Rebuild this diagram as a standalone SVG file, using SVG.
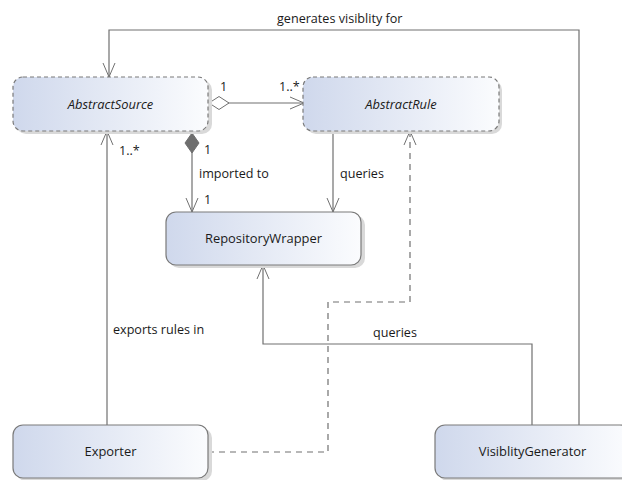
<svg xmlns="http://www.w3.org/2000/svg" width="622" height="480" viewBox="0 0 622 480">
  <defs>
    <linearGradient id="fill" x1="0" y1="0" x2="1" y2="0">
      <stop offset="0" stop-color="#cfd8ec"/>
      <stop offset="1" stop-color="#fbfcfe"/>
    </linearGradient>
    <marker id="open" markerWidth="16" markerHeight="14" refX="14" refY="7" orient="auto" markerUnits="userSpaceOnUse">
      <path d="M0,1 L14,7 L0,13" fill="none" stroke="#707070" stroke-width="1"/>
    </marker>
    <marker id="hollowDiamond" markerWidth="24" markerHeight="16" refX="0" refY="8" orient="auto" markerUnits="userSpaceOnUse">
      <path d="M1,8 L11,1.5 L21,8 L11,14.5 Z" fill="#ffffff" stroke="#707070" stroke-width="1"/>
    </marker>
    <marker id="filledDiamond" markerWidth="24" markerHeight="16" refX="0" refY="8" orient="auto" markerUnits="userSpaceOnUse">
      <path d="M1,8 L11,1 L21,8 L11,15 Z" fill="#6e6e6e" stroke="#6e6e6e" stroke-width="1"/>
    </marker>
  </defs>
  <style>
    .shadow { fill: #d9d9d9; }
    .box { fill: url(#fill); stroke: #7a7a7a; stroke-width: 1.2; }
    .abstract { stroke-dasharray: 4 3; }
    .name { font-family: "Open Sans", "DejaVu Sans", sans-serif; font-size: 12.9px; fill: #1a1a1a; text-anchor: middle; }
    .italic { font-style: italic; }
    .line { fill: none; stroke: #707070; stroke-width: 1.2; }
    .dash { stroke-dasharray: 6 5; }
    .label { font-family: "Open Sans", "DejaVu Sans", sans-serif; font-size: 12.6px; fill: #1a1a1a; }
  </style>
  <rect width="622" height="480" fill="#ffffff"/>

  <g id="connectors">
    <!-- VisiblityGenerator generates visibility for AbstractSource -->
    <polyline class="line" points="579,425 579,30 109,30 109,77" marker-end="url(#open)"/>
    <text class="label" x="277" y="23">generates visiblity for</text>
    <!-- aggregation AbstractSource to AbstractRule -->
    <line class="line" x1="208" y1="103" x2="304" y2="103" marker-start="url(#hollowDiamond)" marker-end="url(#open)"/>
    <text class="label" x="220" y="91">1</text>
    <text class="label" x="279" y="91">1..*</text>
    <!-- composition AbstractSource to RepositoryWrapper -->
    <line class="line" x1="192" y1="132" x2="192" y2="212" marker-start="url(#filledDiamond)" marker-end="url(#open)"/>
    <text class="label" x="204" y="154">1</text>
    <text class="label" x="199" y="178">imported to</text>
    <text class="label" x="204" y="204">1</text>
    <!-- AbstractRule queries RepositoryWrapper -->
    <line class="line" x1="333" y1="131" x2="333" y2="212" marker-end="url(#open)"/>
    <text class="label" x="340" y="178">queries</text>
    <!-- Exporter exports rules in AbstractSource -->
    <line class="line" x1="107" y1="425" x2="107" y2="131" marker-end="url(#open)"/>
    <text class="label" x="119" y="155">1..*</text>
    <text class="label" x="113" y="334">exports rules in</text>
    <!-- VisiblityGenerator queries RepositoryWrapper -->
    <polyline class="line" points="532,425 532,344 263,344 263,265" marker-end="url(#open)"/>
    <text class="label" x="373" y="337">queries</text>
    <!-- Exporter depends on AbstractRule -->
    <polyline class="line dash" points="208,452 328,452 328,302 410,302 410,131" marker-end="url(#open)"/>
  </g>

  <g id="AbstractSource">
    <rect class="shadow" x="16" y="80" width="196" height="54" rx="10"/>
    <rect class="box abstract" x="13" y="77" width="195" height="54" rx="10"/>
    <text class="name italic" x="110.5" y="108.5">AbstractSource</text>
  </g>

  <g id="AbstractRule">
    <rect class="shadow" x="306" y="80" width="196" height="54" rx="10"/>
    <rect class="box abstract" x="303" y="77" width="196" height="54" rx="10"/>
    <text class="name italic" x="401" y="108.5">AbstractRule</text>
  </g>

  <g id="RepositoryWrapper">
    <rect class="shadow" x="169" y="215" width="196" height="53" rx="10"/>
    <rect class="box" x="166" y="212" width="195" height="53" rx="10"/>
    <text class="name" x="263.5" y="243">RepositoryWrapper</text>
  </g>

  <g id="Exporter">
    <rect class="shadow" x="16" y="428" width="196" height="53" rx="10"/>
    <rect class="box" x="13" y="425" width="195" height="53" rx="10"/>
    <text class="name" x="110.5" y="456">Exporter</text>
  </g>

  <g id="VisiblityGenerator">
    <rect class="shadow" x="438" y="428" width="196" height="53" rx="10"/>
    <rect class="box" x="435" y="425" width="195" height="53" rx="10"/>
    <text class="name" x="532.5" y="456">VisiblityGenerator</text>
  </g>
</svg>
